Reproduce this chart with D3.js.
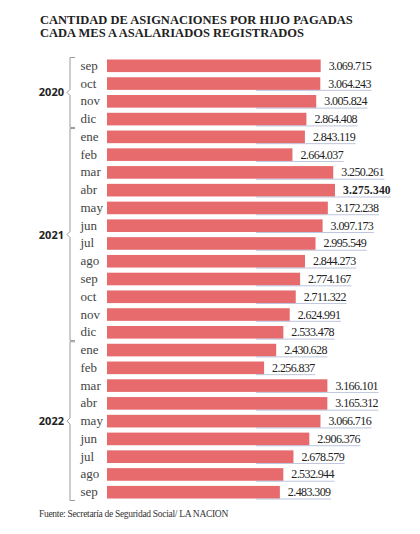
<!DOCTYPE html>
<html>
<head>
<meta charset="utf-8">
<script src="https://cdn.jsdelivr.net/npm/d3@7"></script>
<style>
  html, body { margin: 0; padding: 0; background: #fff; }
  svg { display: block; }
</style>
</head>
<body>
<div id="viz"></div>
<script>
// Monthly data, sep 2020 .. sep 2022
const months = [
  "sep", "oct", "nov", "dic",
  "ene", "feb", "mar", "abr", "may", "jun", "jul", "ago", "sep", "oct", "nov", "dic",
  "ene", "feb", "mar", "abr", "may", "jun", "jul", "ago", "sep",
];
const values = [
  3069715, 3064243, 3005824, 2864408,
  2843119, 2664037, 3250261, 3275340, 3172238, 3097173, 2995549, 2844273, 2774167, 2711322, 2624991, 2533478,
  2430628, 2256837, 3166101, 3165312, 3066716, 2906376, 2678579, 2532944, 2483309,
];
const years = ["2020", "2021", "2022"];
const yearCounts = [4, 12, 9];

const titleLines = [
  "CANTIDAD DE ASIGNACIONES POR HIJO PAGADAS",
  "CADA MES A ASALARIADOS REGISTRADOS",
];
const source = "Fuente: Secretaría de Seguridad Social/ LA NACION";

const W = 420, H = 534;
const svg = d3.select("#viz").append("svg").attr("width", W).attr("height", H);

const rows = months.map((m, i) => ({ i, m, v: values[i] }));
const maxV = d3.max(values);

const x = d3.scaleLinear().domain([0, maxV]).range([107, 335]);
const y = d3.scaleBand().domain(d3.range(rows.length)).range([57, 501]).paddingInner(0.29).paddingOuter(0.14);

const fmt = (v) => d3.format(",")(v).replace(/,/g, ".");

// title
svg.append("g").selectAll("text").data(titleLines).join("text")
  .attr("x", 40).attr("y", (d, i) => 23.5 + i * 13.5)
  .attr("font-family", "Liberation Serif, serif").attr("font-weight", "bold")
  .attr("font-size", 12.5).attr("fill", "#222")
  .text((d) => d);

// bars
svg.append("g").selectAll("rect").data(rows).join("rect")
  .attr("x", x(0)).attr("y", (d) => y(d.i))
  .attr("width", (d) => x(d.v) - x(0)).attr("height", y.bandwidth())
  .attr("fill", "#e76a6c");

// month labels
svg.append("g").selectAll("text").data(rows).join("text")
  .attr("x", 80.5).attr("y", (d) => y(d.i) + y.bandwidth() / 2 + 4)
  .attr("font-family", "Liberation Serif, serif").attr("font-size", 13)
  .attr("fill", "#444").text((d) => d.m);

// value labels
const vals = svg.append("g").selectAll("text").data(rows).join("text")
  .attr("x", (d) => x(d.v) + 8).attr("y", (d) => y(d.i) + y.bandwidth() / 2 + 4)
  .attr("font-family", "Liberation Serif, serif")
  .attr("font-size", (d) => d.v === maxV ? 11.5 : 12)
  .attr("font-weight", (d) => d.v === maxV ? "bold" : "normal")
  .attr("letter-spacing", (d) => d.v === maxV ? 0.2 : -0.6)
  .attr("fill", "#222").text((d) => fmt(d.v));

// faint leader underlines
const ends = [];
vals.each(function () { ends.push(this.getBBox().x + this.getBBox().width); });
svg.append("g").selectAll("line").data(rows.slice(1)).join("line")
  .attr("x1", 256).attr("x2", (d) => ends[d.i])
  .attr("y1", (d) => y(d.i) + y.bandwidth() + 0.5)
  .attr("y2", (d) => y(d.i) + y.bandwidth() + 0.5)
  .attr("stroke", "#9aa6cc").attr("stroke-width", 0.8).attr("opacity", 0.8);

// year brackets
let start = 0;
const groups = years.map((yr, k) => {
  const g = { yr, first: start, last: start + yearCounts[k] - 1 };
  start += yearCounts[k];
  return g;
});

const br = svg.append("g").attr("fill", "none").attr("stroke", "#999").attr("stroke-width", 1);
groups.forEach((g) => {
  const top = y(g.first) - 2;
  const bot = y(g.last) + y.bandwidth() + 2;
  const mid = (top + bot) / 2;
  br.append("path")
    .attr("d", `M75,${top}H70V${mid - 3}L67,${mid}L70,${mid + 3}V${bot}H75`);
  svg.append("text")
    .attr("x", 64).attr("y", mid + 4).attr("text-anchor", "end")
    .attr("font-family", "Open Sans, sans-serif").attr("font-weight", "bold")
    .attr("font-size", 11).attr("fill", "#222").text(g.yr);
});

// source
svg.append("text")
  .attr("x", 39).attr("y", 517)
  .attr("font-family", "Liberation Serif, serif").attr("font-size", 9.5)
  .attr("letter-spacing", -0.3).attr("fill", "#333").text(source);
</script>
</body>
</html>
